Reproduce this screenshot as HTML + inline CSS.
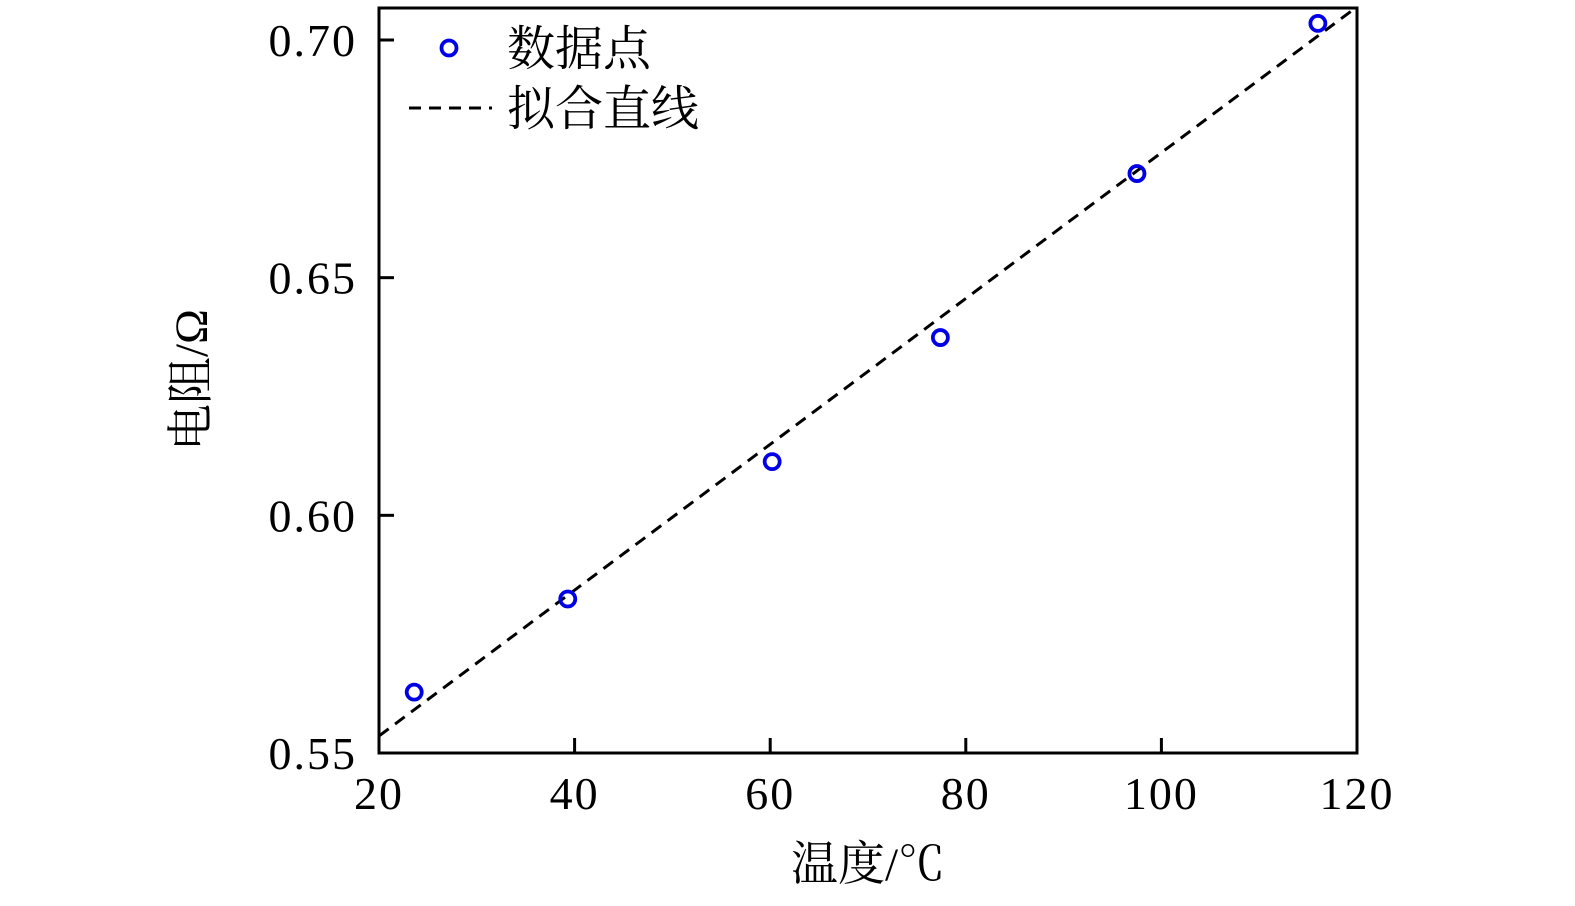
<!DOCTYPE html>
<html><head><meta charset="utf-8"><style>
html,body{margin:0;padding:0;background:#fff;overflow:hidden;width:1575px;height:906px;}
svg{position:absolute;left:0;top:0;display:block;}
svg text{font-family:"Liberation Serif","Noto Serif CJK SC",serif;fill:#000;}
</style></head><body>
<svg id="chart" width="1575" height="906" viewBox="0 0 1575 906" xmlns="http://www.w3.org/2000/svg">
<g id="plot"></g>
<text x="868" y="880" text-anchor="middle" font-size="47">温度/℃</text>
<text transform="translate(207,380) rotate(-90)" text-anchor="middle" font-size="47">电阻/Ω</text>
<g>
<circle cx="449" cy="48" r="7.5" fill="none" stroke="#0000e6" stroke-width="3.8"/>
<text x="507" y="65" font-size="48">数据点</text>
<line x1="409" y1="108" x2="492" y2="108" stroke="#000" stroke-width="3" stroke-dasharray="12 8"/>
<text x="507" y="125" font-size="48">拟合直线</text>
</g>
</svg>
<script>
const xTicks=[20,40,60,80,100,120];
const yTicks=[0.55,0.60,0.65,0.70];
const yTickLabels=["0.55","0.60","0.65","0.70"];
const temps=[23.6,39.3,60.2,77.4,97.5,116.0];
const resist=[0.5628,0.5824,0.6113,0.6374,0.6719,0.7035];
const fitSlope=0.001534;
const fitIntercept=0.5229;

const L=379,R=1357,T=8,B=753;
const X0=20,X1=120,Y0=0.55,Y1=0.70;
const yTop=40;
function sx(v){return L+(v-X0)/(X1-X0)*(R-L);}
function sy(v){return B-(v-Y0)/(Y1-Y0)*(B-yTop);}
const NS="http://www.w3.org/2000/svg";
const g=document.getElementById('plot');
function mk(tag,attrs,parent){const e=document.createElementNS(NS,tag);for(const k in attrs)e.setAttribute(k,attrs[k]);(parent||g).appendChild(e);return e;}

const defs=mk('defs',{});
const cp=mk('clipPath',{id:'clip'},defs);
mk('rect',{x:L,y:T,width:R-L,height:B-T},cp);

const fit=mk('line',{x1:sx(X0),y1:sy(fitIntercept+fitSlope*X0),x2:sx(X1),y2:sy(fitIntercept+fitSlope*X1),stroke:'#000','stroke-width':3,'stroke-dasharray':'12 8','clip-path':'url(#clip)'});



temps.forEach((t,i)=>{
 const c=mk('circle',{cx:sx(t),cy:sy(resist[i]),r:7.5,fill:'none',stroke:'#0000e6','stroke-width':3.8});
 
 
});

const fr=mk('rect',{x:L,y:T,width:R-L,height:B-T,fill:'none',stroke:'#000','stroke-width':3});



xTicks.forEach(v=>{
 const tk=mk('line',{x1:sx(v),y1:B,x2:sx(v),y2:B-15,stroke:'#000','stroke-width':3});
 
 
 const tx=mk('text',{x:sx(v),y:809,'text-anchor':'middle','font-size':46,'letter-spacing':2});
 tx.textContent=String(v);
 
 
});
yTicks.forEach((v,i)=>{
 const tk=mk('line',{x1:L,y1:sy(v),x2:L+15,y2:sy(v),stroke:'#000','stroke-width':3});
 
 
 const tx=mk('text',{x:357,y:sy(v)+16,'text-anchor':'end','font-size':46,'letter-spacing':2});
 tx.textContent=yTickLabels[i];
 
 
});
</script>
</body></html>
